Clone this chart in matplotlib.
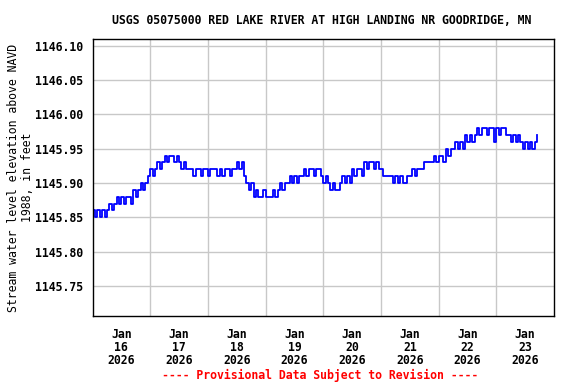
import numpy as np
import pandas as pd
import matplotlib
matplotlib.use("Agg")
import matplotlib.pyplot as plt
import matplotlib.dates as mdates

# hourly gage height, hundredths of a foot above 1145.00, starting Jan 16 00:00
jan16 = [86, 85, 86, 85, 86, 85, 86, 87, 86, 87, 88, 87, 88, 87, 88, 88, 87, 89, 88, 89, 90, 89, 90, 91]
jan17 = [92, 91, 92, 93, 92, 93, 94, 93, 94, 94, 93, 94, 93, 92, 93, 92, 92, 92, 91, 92, 92, 91, 92, 92]
jan18 = [91, 92, 92, 92, 91, 92, 91, 92, 92, 91, 92, 92, 93, 92, 93, 91, 90, 89, 90, 88, 89, 88, 88, 89]
jan19 = [88, 88, 88, 89, 88, 89, 90, 89, 90, 90, 91, 90, 91, 90, 91, 91, 92, 91, 92, 92, 91, 92, 92, 91]
jan20 = [90, 91, 90, 89, 90, 89, 89, 90, 91, 90, 91, 90, 92, 91, 92, 92, 91, 93, 92, 93, 93, 92, 93, 92]
jan21 = [92, 91, 91, 91, 91, 90, 91, 90, 91, 90, 90, 91, 91, 92, 91, 92, 92, 92, 93, 93, 93, 93, 94, 93]
jan22 = [94, 94, 93, 95, 94, 95, 95, 96, 95, 96, 95, 97, 96, 97, 96, 97, 98, 97, 98, 98, 97, 98, 98, 96]
jan23 = [98, 97, 98, 98, 97, 97, 96, 97, 96, 97, 96, 95, 96, 95, 96, 95, 96, 97]

hundredths = jan16 + jan17 + jan18 + jan19 + jan20 + jan21 + jan22 + jan23
elev = 1145.0 + np.array(hundredths) / 100.0
times = pd.date_range("2026-01-16 00:00", periods=len(elev), freq="h")

y_ticks = [1145.75, 1145.80, 1145.85, 1145.90, 1145.95, 1146.00, 1146.05, 1146.10]
day_labels = ["Jan\n16\n2026", "Jan\n17\n2026", "Jan\n18\n2026", "Jan\n19\n2026",
              "Jan\n20\n2026", "Jan\n21\n2026", "Jan\n22\n2026", "Jan\n23\n2026"]

plt.rcParams['font.family'] = ['DejaVu Sans Mono']
plt.rcParams['font.weight'] = 'bold'
plt.rcParams['font.size'] = 8.3

fig = plt.figure(figsize=(5.76, 3.84), dpi=100)
ax = fig.add_axes([92.5 / 576, 1 - 316 / 384, (554 - 92.5) / 576, (316 - 39) / 384])

ax.plot(times, elev, color="#0000ff", lw=1.3, drawstyle="steps-post")

ax.set_xlim(pd.Timestamp("2026-01-16"), pd.Timestamp("2026-01-24"))
ax.set_ylim(1145.706, 1146.110)

midnights = pd.date_range("2026-01-17", "2026-01-23", freq="D")
noons = pd.date_range("2026-01-16 12:00", periods=8, freq="D")
ax.set_xticks(mdates.date2num(midnights))
ax.set_xticklabels([])
ax.set_xticks(mdates.date2num(noons), minor=True)
ax.set_xticklabels(day_labels, minor=True, linespacing=0.95)
ax.set_yticks(y_ticks)
ax.set_yticklabels([f"{v:.2f}" for v in y_ticks])

ax.tick_params(axis="x", which="both", length=0, pad=9)
ax.tick_params(axis="y", length=0, pad=7)
ax.grid(True, which="major", color="#c8c8c8", lw=1.0)
ax.set_axisbelow(True)
for s in ax.spines.values():
    s.set_color("black")
    s.set_linewidth(1.0)

ax.set_ylabel("Stream water level elevation above NAVD\n1988, in feet", linespacing=1.15)
ax.yaxis.set_label_coords(-0.126, 0.5)
fig.text(0.5 * (92.5 + 554) / 576 - 0.003, 1 - 20 / 384,
         "USGS 05075000 RED LAKE RIVER AT HIGH LANDING NR GOODRIDGE, MN",
         ha="center", va="center")
fig.text(0.5 * (92.5 + 554) / 576 - 0.005, 1 - 375 / 384,
         "---- Provisional Data Subject to Revision ----",
         ha="center", va="center", color="red")

fig.savefig("out.png", dpi=100)
